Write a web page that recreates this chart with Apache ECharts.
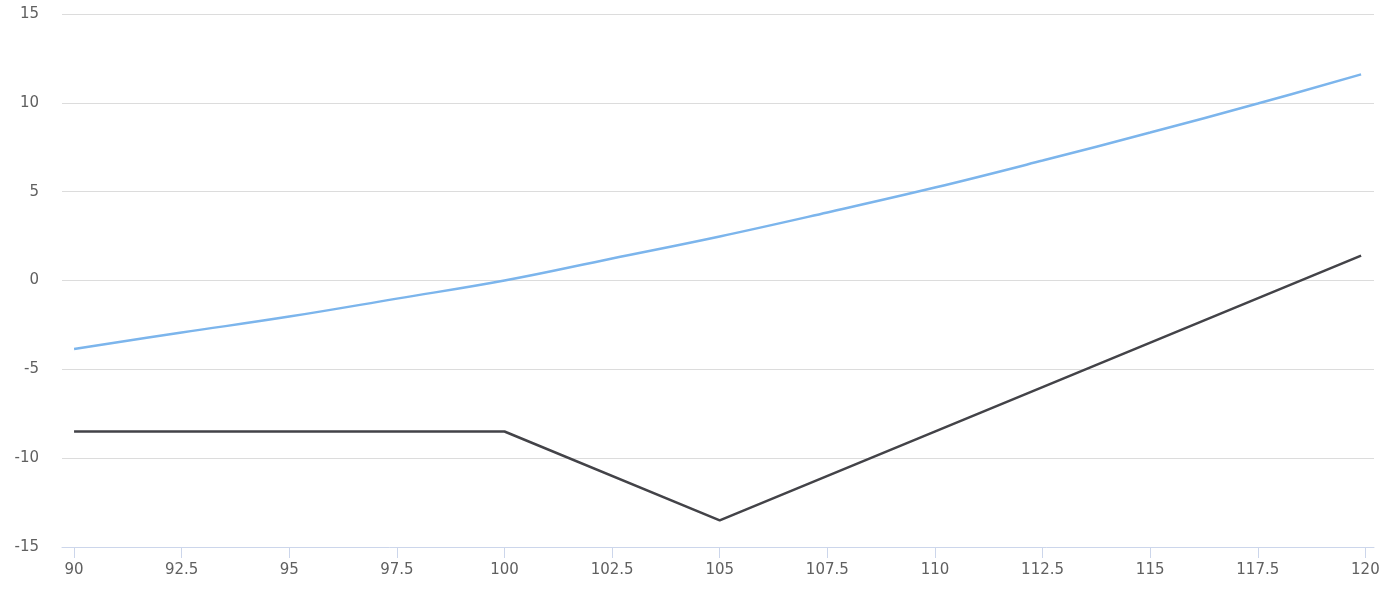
<!DOCTYPE html>
<html>
<head>
<meta charset="utf-8">
<style>
  html, body { margin: 0; padding: 0; background: #ffffff; }
  #chart { width: 1390px; height: 598px; }
</style>
<script src="https://cdn.jsdelivr.net/npm/echarts@6/dist/echarts.min.js"></script>
</head>
<body>
<div id="chart"></div>
<script>
// Data
var xTicks = [90, 92.5, 95, 97.5, 100, 102.5, 105, 107.5, 110, 112.5, 115, 117.5, 120];

var blueX = [90, 92.5, 95, 97.5, 100, 102.5, 105, 107.5, 110, 112.5, 115, 117.5, 119.9];
var blueY = [-3.85, -2.93, -2.03, -1.02, 0, 1.24, 2.48, 3.83, 5.23, 6.75, 8.33, 9.96, 11.6];

var blackX = [90, 100, 105, 119.9];
var blackY = [-8.5, -8.5, -13.5, 1.4];

function pairs(xs, ys) {
  var out = [];
  for (var i = 0; i < xs.length; i++) out.push([xs[i], ys[i]]);
  return out;
}

var chart = echarts.init(document.getElementById('chart'), null, { renderer: 'canvas' });
var fontFamily = '"DejaVu Sans", Verdana, sans-serif';

chart.setOption({
  animation: false,
  backgroundColor: '#ffffff',
  grid: { left: 62, right: 16, top: 14, bottom: 51, containLabel: false },
  xAxis: {
    type: 'value',
    min: 89.72,
    max: 120.2,
    z: 5,
    axisLine: { show: true, onZero: false, lineStyle: { color: '#ccd6eb', width: 1 } },
    axisTick: { show: true, length: 11, lineStyle: { color: '#ccd6eb', width: 1 }, customValues: xTicks },
    axisLabel: { color: '#606060', fontSize: 15, fontFamily: fontFamily, margin: 16, customValues: xTicks },
    splitLine: { show: false }
  },
  yAxis: {
    type: 'value',
    min: -15,
    max: 15,
    interval: 5,
    axisLine: { show: false },
    axisTick: { show: false },
    axisLabel: { color: '#606060', fontSize: 15, fontFamily: fontFamily, margin: 23 },
    splitLine: { show: true, showMinLine: false, lineStyle: { color: '#dcdcdc', width: 1 } }
  },
  series: [
    {
      type: 'line',
      data: pairs(blueX, blueY),
      smooth: 0.4,
      showSymbol: false,
      lineStyle: { color: '#7cb5ec', width: 2.5 },
      itemStyle: { color: '#7cb5ec' }
    },
    {
      type: 'line',
      data: pairs(blackX, blackY),
      showSymbol: false,
      lineStyle: { color: '#434348', width: 2.5 },
      itemStyle: { color: '#434348' }
    }
  ]
});
</script>
</body>
</html>
